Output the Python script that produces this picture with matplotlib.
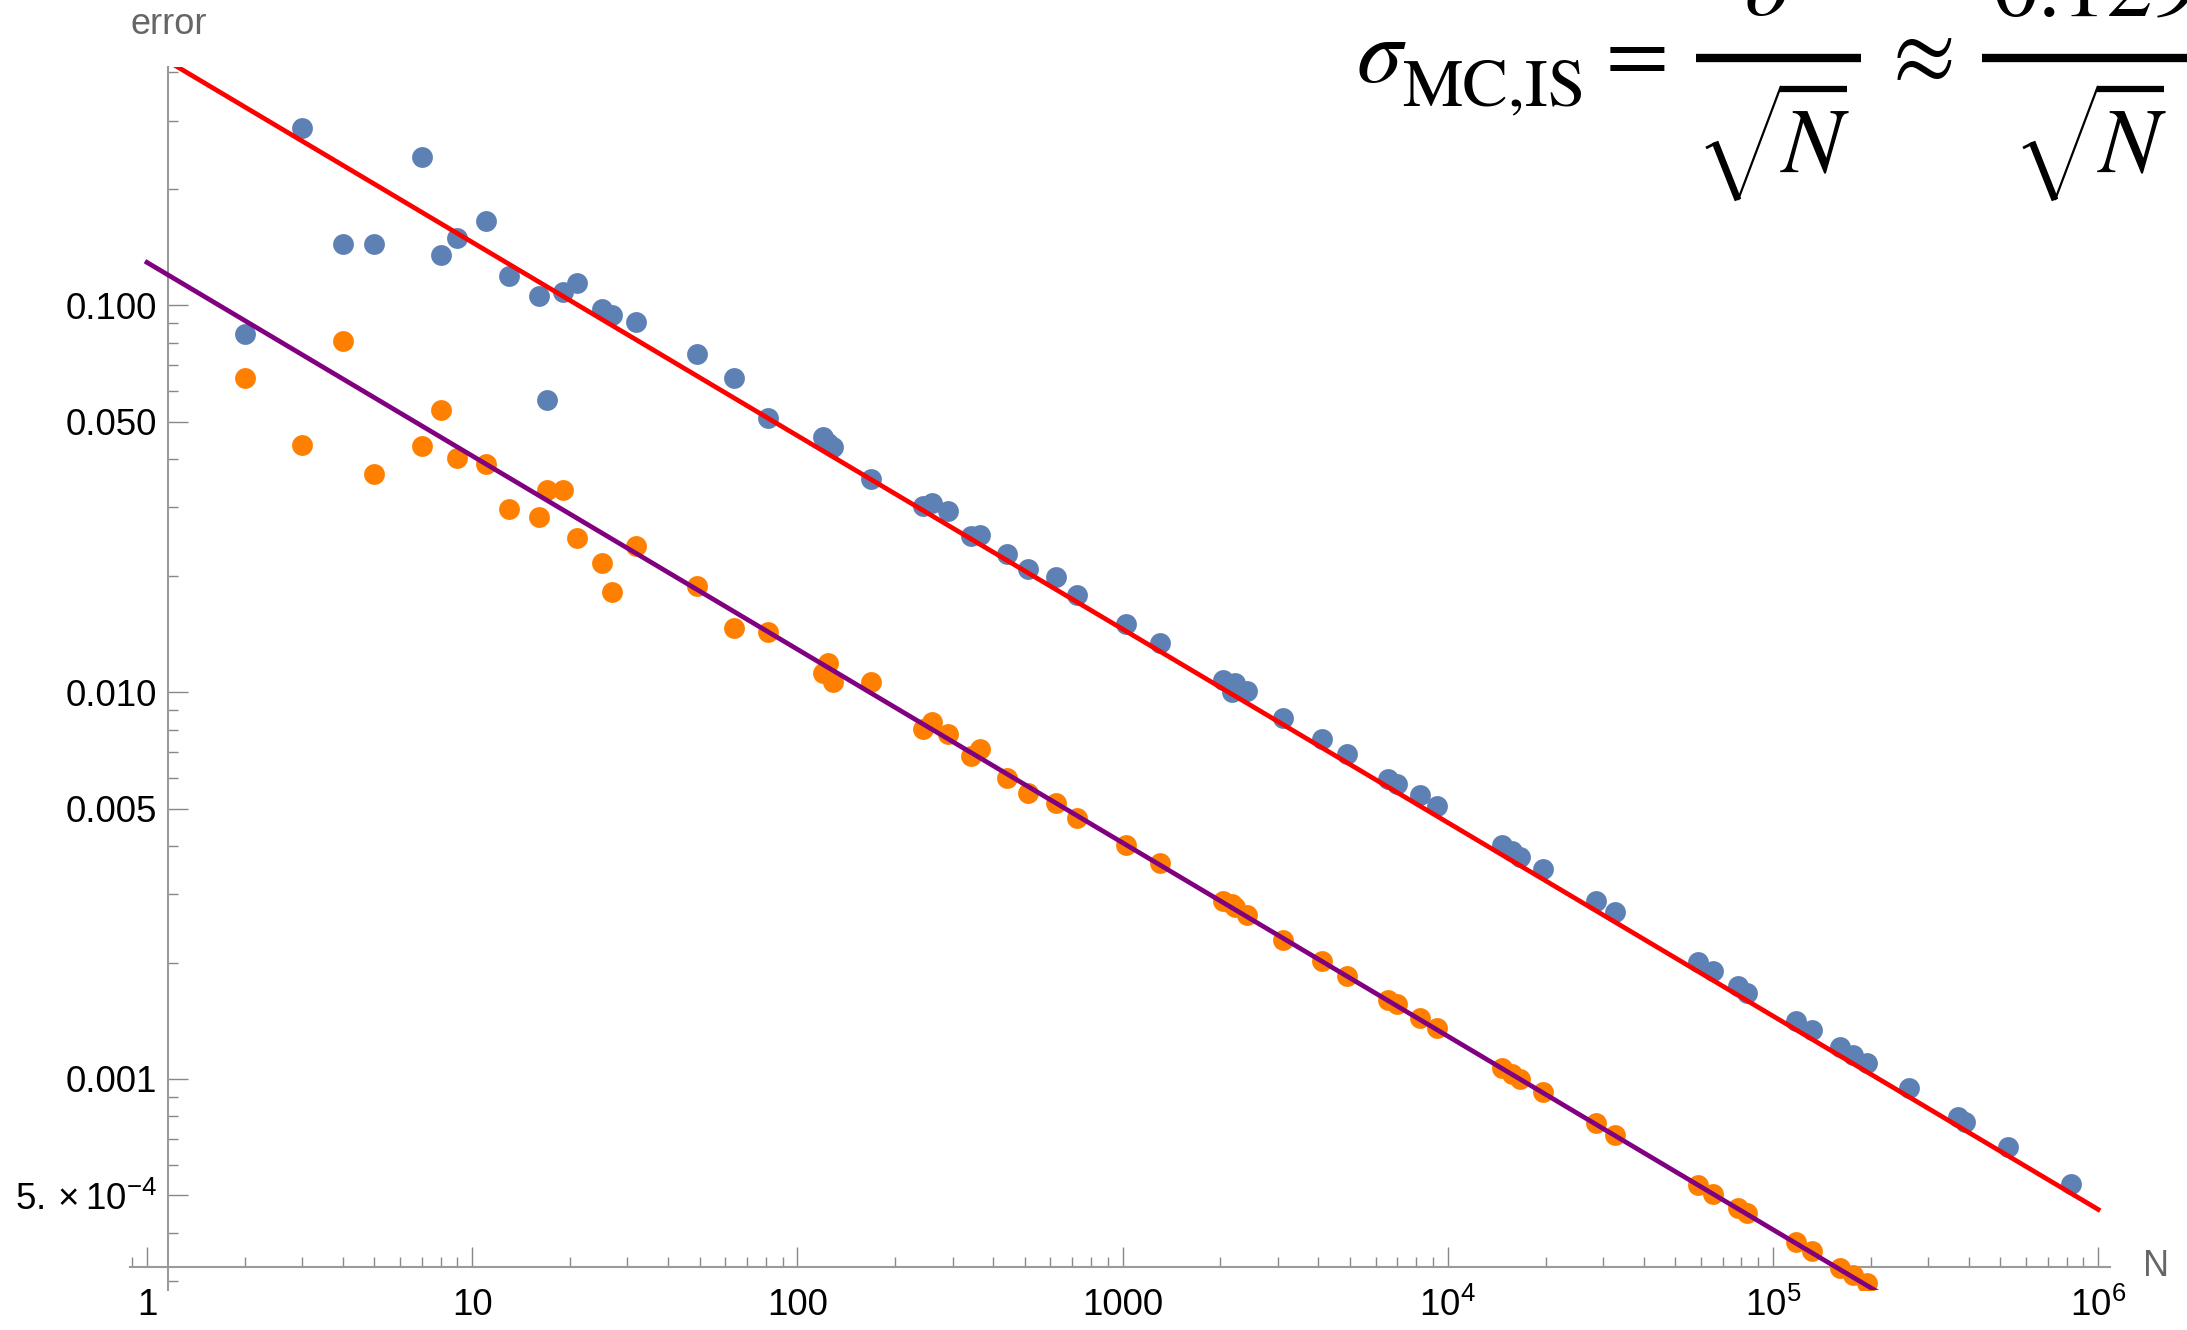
import numpy as np
import matplotlib.pyplot as plt
from matplotlib.lines import Line2D

plt.rcParams['font.family'] = ['Liberation Sans', 'DejaVu Sans']
plt.rcParams['mathtext.fontset'] = 'custom'
plt.rcParams['mathtext.rm'] = 'Liberation Sans'
plt.rcParams['mathtext.it'] = 'Liberation Sans:italic'

# sample sizes N (shared by both estimators)
n_samples = [2, 3, 4, 5, 7, 8, 9, 11, 13, 16, 17, 19, 21, 25, 27, 32,
             49, 64, 81, 120, 124, 129, 168, 244, 259, 290, 343, 364, 442, 511, 624, 725, 1022, 1300,
             2040, 2165, 2216, 2418, 3120, 4093, 4906, 6561, 6960, 8212, 9245,
             14650, 15720, 16680, 19680, 28500, 32660,
             58900, 65530, 78200, 83400, 117400, 131500, 160700, 176600, 194200,
             262500, 371300, 389400, 526700, 822700]

# plain Monte Carlo error (blue)
err_mc = [0.0841, 0.2867, 0.1443, 0.1443, 0.2418, 0.1348, 0.1489, 0.1646, 0.1192, 0.1056,
          0.0570, 0.1083, 0.1142, 0.0980, 0.0943, 0.0906,
          0.0750, 0.0648, 0.0510, 0.0456, 0.0440, 0.0429, 0.0355, 0.0302, 0.0308, 0.0293,
          0.0253, 0.0254, 0.0227, 0.0208, 0.0198, 0.0178, 0.01503, 0.0134,
          0.01073, 0.00998, 0.01058, 0.01004, 0.00859, 0.00758, 0.00690, 0.00596, 0.00578,
          0.00542, 0.00507, 0.00403, 0.00388, 0.00374, 0.00348, 0.00289, 0.00270,
          0.00201, 0.00190, 0.00174, 0.00167, 0.001415, 0.001339, 0.001212, 0.001153, 0.001102,
          0.000946, 0.000796, 0.000776, 0.000666, 0.000534]

# importance sampling error (orange), last ones fall below the plot range
err_is = [0.0650, 0.0435, 0.0810, 0.0367, 0.0433, 0.0535, 0.0403, 0.0389, 0.0297, 0.0283,
          0.0332, 0.0332, 0.0250, 0.0216, 0.0181, 0.0239,
          0.0188, 0.01464, 0.01432, 0.01122, 0.01188, 0.01059, 0.01065, 0.00804, 0.00838, 0.00779,
          0.00683, 0.00714, 0.00598, 0.00550, 0.00518, 0.00472, 0.00402, 0.00362,
          0.00289, 0.00283, 0.00278, 0.00265, 0.00228, 0.00202, 0.00185, 0.00160, 0.00156,
          0.001435, 0.001354, 0.001065, 0.001032, 0.00100, 0.000924, 0.00077, 0.000716,
          0.000532, 0.000504, 0.000463, 0.00045, 0.00038, 0.00036, 0.000324, 0.000311, 0.000297,
          np.nan, np.nan, np.nan, np.nan, np.nan]

sigma_mc = 0.46
sigma_is = 0.129

x_major = [1, 10, 100, 1000, 1e4, 1e5, 1e6]
x_labels = ['1', '10', '100', '1000', r'$10^{4}$', r'$10^{5}$', r'$10^{6}$']
y_major = [0.1, 0.05, 0.01, 0.005, 0.001, 0.0005]
y_labels = ['0.100', '0.050', '0.010', '0.005', '0.001', r'$5.\,\!\times\,\!10^{-4}$']

W, H = 2187, 1330
fig = plt.figure(figsize=(W / 100, H / 100), dpi=100)
# axes box in pixels: left 129.5, right 2110, top 66.7, bottom 1290
ax = fig.add_axes([129.5 / W, (H - 1290) / H, (2110 - 129.5) / W, (1290 - 66.7) / H])
ax.set_xscale('log')
ax.set_yscale('log')

ax.plot(n_samples, err_mc, 'o', ms=15, mew=0, color='#5E81B5', zorder=3)
ax.plot(n_samples, err_is, 'o', ms=15, mew=0, color='#FF8000', zorder=3)

n_line = np.array([1, 1e6])
ax.plot(n_line, sigma_mc / np.sqrt(n_line), color='#FF0000', lw=3.4, zorder=4)
ax.plot(n_line, sigma_is / np.sqrt(n_line), color='#800080', lw=3.4, zorder=4)

axis_gray = '#9a9a9a'
for s in ['top', 'right']:
    ax.spines[s].set_visible(False)
ax.spines['left'].set_position(('data', 1.1603))
ax.spines['bottom'].set_position(('data', 3.272e-4))
for s in ['left', 'bottom']:
    ax.spines[s].set_color(axis_gray)
    ax.spines[s].set_linewidth(1.5)

ax.set_xticks(x_major, x_labels)
x_minor = [k * 10.0 ** d for d in range(-1, 6) for k in range(2, 10)]
ax.set_xticks(x_minor, minor=True)
ax.set_yticks(y_major, y_labels)
y_minor = [k * 10.0 ** d for d in range(-4, 0) for k in [2, 3, 4, 6, 7, 8, 9]]
ax.set_yticks(y_minor, minor=True)
ax.set_xlim(10 ** -0.0538, 10 ** 6.0363)
ax.set_ylim(10 ** -3.5454, 10 ** -0.3836)
ax.tick_params(axis='both', which='both', direction='in', color='#888888', width=1.0,
               labelsize=26.5)
ax.tick_params(which='major', length=14.4)
ax.tick_params(which='minor', length=7.2, labelleft=False, labelbottom=False)
ax.tick_params(axis='x', which='major', pad=15)
ax.tick_params(axis='y', which='major', pad=8)

fig.text(131 / W, 1 - 24 / H, 'error', color='#666666', fontsize=26, ha='left', va='center')
fig.text(2143 / W, 1 - 1266.7 / H, 'N', color='#666666', fontsize=26, ha='left', va='center')


# formula in the top right corner, built from pieces (pixel positions)
def ftext(x, y, s, size=66, style='normal', **kw):
    fig.text(x / W, 1 - y / H, s, family='STIXGeneral', fontsize=size, fontstyle=style,
             va='baseline', **kw)


def fline(xs, ys, lw):
    fig.add_artist(Line2D([x / W for x in xs], [1 - y / H for y in ys], color='black',
                          lw=lw, solid_capstyle='butt', solid_joinstyle='miter'))


ftext(1357, 82, 'σ', style='italic', ha='left')
ftext(1402, 105, 'MC,IS', size=49, ha='left')
ftext(1637, 82, '=', ha='center')
ftext(1924, 82, '≈', ha='center')
fline([1696, 1861], [57.5, 57.5], 6.0)
fline([1982, 2200], [57.5, 57.5], 6.0)
ftext(1767, 15, 'σ', style='italic', ha='center')
ftext(1993, 15, '0.129', ha='left')
for dx in [0, 317]:
    fline([1706 + dx, 1716 + dx], [148, 143], 2.0)
    fline([1715 + dx, 1738 + dx], [142, 200], 5.0)
    fline([1738 + dx, 1781 + dx], [200, 86], 1.6)
    fline([1780 + dx, 1847 + dx], [89, 89], 4.5)
    ftext(1782 + dx, 173, 'N', style='italic', ha='left')

fig.savefig('out.png', dpi=100)
